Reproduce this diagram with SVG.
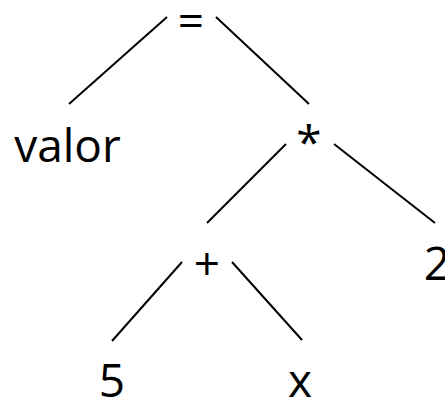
<svg xmlns="http://www.w3.org/2000/svg" width="445" height="399" viewBox="0 0 445 399">
<style>
text{font-family:"Open Sans","Liberation Sans",sans-serif;font-size:46px;fill:#000;text-anchor:middle}
line{stroke:#000;stroke-width:2}
</style>
<rect width="445" height="399" fill="#fff"/>
<g id="connectors">
<line x1="167" y1="17" x2="69" y2="104"/>
<line x1="216" y1="17" x2="309" y2="104"/>
<line x1="286" y1="144" x2="207" y2="223"/>
<line x1="334" y1="144" x2="435" y2="223"/>
<line x1="182" y1="262" x2="112" y2="341"/>
<line x1="232" y1="262" x2="302" y2="340"/>
</g>
<g id="n-eq"><text x="191" y="37">=</text></g>
<g id="n-valor"><text x="67.5" y="162">valor</text></g>
<g id="n-mul"><text x="309" y="159">*</text></g>
<g id="n-plus"><text x="207" y="280">+</text></g>
<g id="n-2"><text x="437" y="280">2</text></g>
<g id="n-5"><text x="112" y="397">5</text></g>
<g id="n-x"><text x="300" y="397">x</text></g>
</svg>
